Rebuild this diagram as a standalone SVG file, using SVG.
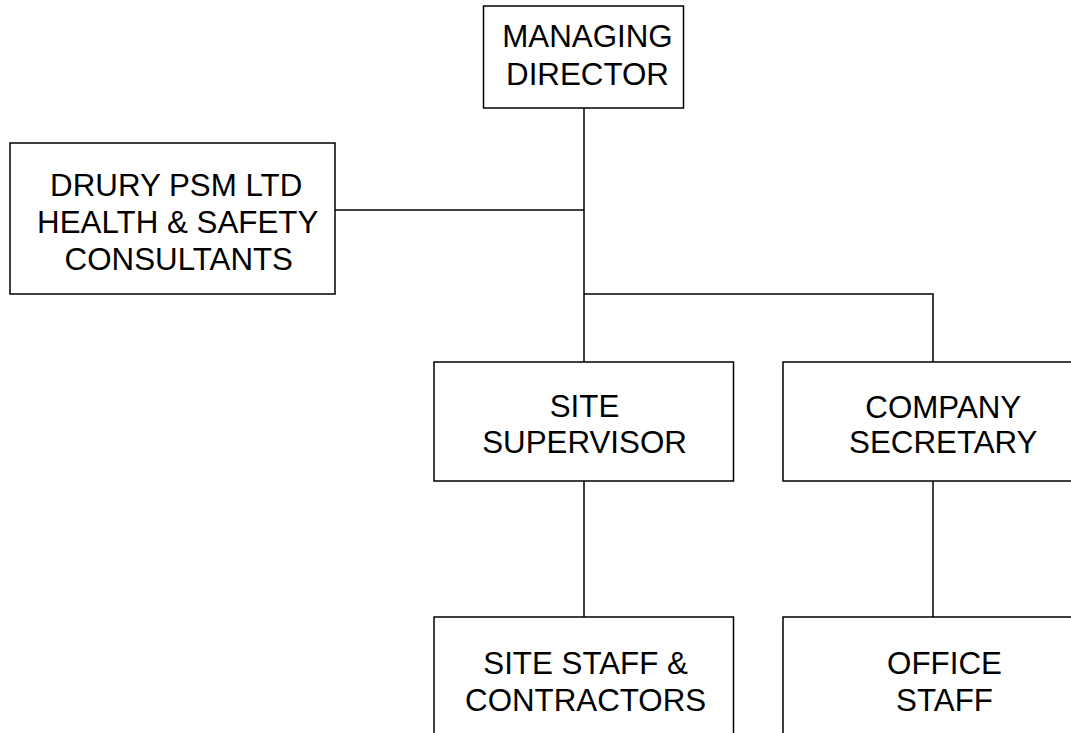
<svg xmlns="http://www.w3.org/2000/svg" width="1071" height="733" viewBox="0 0 1071 733">
<style>
rect{fill:#fff;stroke:#000;stroke-width:1.5}
.c{fill:none;stroke:#000;stroke-width:1.5}
text{font-family:"Liberation Sans",Arial,sans-serif;font-size:31.3px;fill:#000;text-anchor:middle}
</style>
<rect x="0" y="0" width="1071" height="733" style="stroke:none"/>
<g id="connectors">
<path class="c" d="M584,108V362"/>
<path class="c" d="M335,210H584"/>
<path class="c" d="M584,294H933V362"/>
<path class="c" d="M584,481V617"/>
<path class="c" d="M933,481V617"/>
</g>
<g id="managing-director">
<rect x="483.5" y="6" width="200" height="102"/>
<text x="587.5" y="46.7">MANAGING</text>
<text x="587.5" y="85">DIRECTOR</text>
</g>
<g id="drury">
<rect x="10" y="143" width="325" height="151"/>
<text x="176.2" y="196">DRURY PSM LTD</text>
<text x="177.7" y="233">HEALTH &amp; SAFETY</text>
<text x="178.8" y="270">CONSULTANTS</text>
</g>
<g id="site-supervisor">
<rect x="434" y="362" width="299.5" height="119"/>
<text x="584.5" y="416.7">SITE</text>
<text x="584.5" y="453.3">SUPERVISOR</text>
</g>
<g id="company-secretary">
<rect x="783" y="362" width="320" height="119"/>
<text x="943.3" y="417.5">COMPANY</text>
<text x="943.3" y="453.3">SECRETARY</text>
</g>
<g id="site-staff">
<rect x="434" y="617" width="299.5" height="130"/>
<text x="585.6" y="674">SITE STAFF &amp;</text>
<text x="585.6" y="711">CONTRACTORS</text>
</g>
<g id="office-staff">
<rect x="783" y="617" width="320" height="130"/>
<text x="944.5" y="674">OFFICE</text>
<text x="944.5" y="711">STAFF</text>
</g>
</svg>
